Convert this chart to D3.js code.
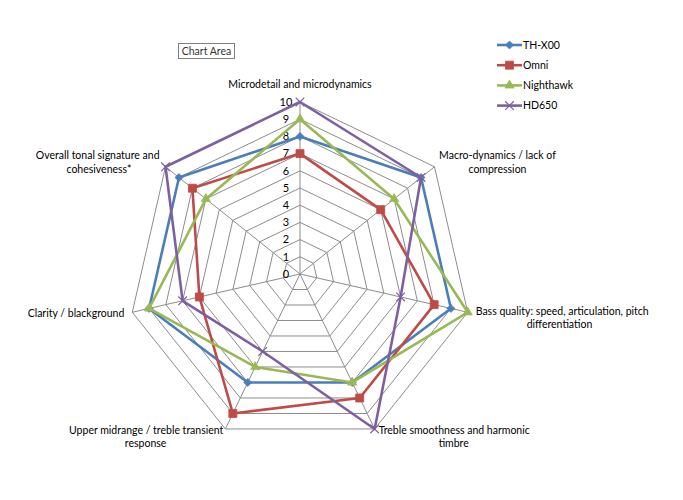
<!DOCTYPE html>
<html><head><meta charset="utf-8">
<script src="https://cdn.jsdelivr.net/npm/d3@7"></script>
<style>body{margin:0;background:#fff}svg{display:block}text{font-family:Lato,"Open Sans",sans-serif;fill:#000}</style>
</head><body><svg id="c" width="683" height="500"></svg>
<script>
const categories = [
  ["Microdetail and microdynamics"],
  ["Macro-dynamics / lack of","compression"],
  ["Bass quality: speed, articulation, pitch","differentiation"],
  ["Treble smoothness and harmonic","timbre"],
  ["Upper midrange / treble transient","response"],
  ["Clarity / blackground"],
  ["Overall tonal signature and","cohesiveness*"]
];
const seriesNames = ["TH-X00","Omni","Nighthawk","HD650"];
const thx00 = [8,9,9,7,7,9,9];
const omni = [7,6,8,8,9,6,8];
const nighthawk = [9,7,10,7,6,9,7];
const hd650 = [10,9,6,10,5,7,10];
const tickLabels = [0,1,2,3,4,5,6,7,8,9,10];

const seriesValues = [thx00, omni, nighthawk, hd650];
const colors = ["#4a7ebb","#be4b48","#98b954","#7d60a0"];
const markers = ["diamond","square","triangle","cross"];

const svg = d3.select("#c");
const cx = 300, cy = 274, R = 172;
const r = d3.scaleLinear().domain([0,10]).range([0,R]);
const n = categories.length;
const ang = d3.scaleLinear().domain([0,n]).range([0,2*Math.PI]);
const pt = (i,v)=>[cx + r(v)*Math.sin(ang(i)), cy - r(v)*Math.cos(ang(i))];

// grid polygons
const g = svg.append("g");
tickLabels.slice(1).forEach(t=>{
  g.append("polygon")
   .attr("points", d3.range(n).map(i=>pt(i,t).join(",")).join(" "))
   .attr("fill","none").attr("stroke","#8c8c8c").attr("stroke-width",1);
});
d3.range(n).forEach(i=>{
  const [x,y]=pt(i,10);
  g.append("line").attr("x1",cx).attr("y1",cy).attr("x2",x).attr("y2",y)
   .attr("stroke","#8c8c8c").attr("stroke-width",1);
});
// tick labels
tickLabels.forEach(t=>{
  svg.append("text").attr("x",cx-14).attr("y",cy-r(t)).attr("dy","0.35em")
   .attr("text-anchor","middle").attr("font-size",11).text(t);
});

// axis labels (per-line anchors)
const place = [
  {dx:0, dy:-18, anchors:["middle"], lx:[0]},
  {dx:63, dy:-11, anchors:["middle","middle"], lx:[0,0]},
  {dx:8, dy:-1, anchors:["start","start"], lx:[0,51]},
  {dx:4, dy:1, anchors:["start","start"], lx:[0,60]},
  {dx:-2, dy:1, anchors:["end","end"], lx:[0,-57]},
  {dx:-8, dy:1, anchors:["end"], lx:[0]},
  {dx:-6, dy:-11, anchors:["end","end"], lx:[0,-28]}
];
categories.forEach((lines,i)=>{
  const [x,y]=pt(i,10); const p=place[i];
  lines.forEach((s,k)=>{
    svg.append("text").attr("font-size",10.5).attr("text-anchor",p.anchors[k])
      .attr("x",x+p.dx+p.lx[k]).attr("y",y+p.dy+k*13.5).attr("dy","0.35em").text(s);
  });
});

const sym = {
  diamond: d3.symbol().type(d3.symbolDiamond2 || d3.symbolDiamond).size(40),
  square: d3.symbol().type(d3.symbolSquare).size(64),
  triangle: d3.symbol().type(d3.symbolTriangle2 || d3.symbolTriangle).size(60),
  cross: d3.symbol().type(d3.symbolTimes || d3.symbolX).size(50)
};
function drawMarker(sel, m, color, x, y){
  const path = sel.append("path").attr("d", sym[m]()).attr("transform",`translate(${x},${y})`);
  if(m==="cross") path.attr("fill","none").attr("stroke",color).attr("stroke-width",1.2);
  else path.attr("fill",color).attr("stroke",color).attr("stroke-width",0.8);
}

const line = d3.lineRadial().angle((d,i)=>ang(i)).radius(d=>r(d)).curve(d3.curveLinearClosed);
seriesValues.forEach((vals,s)=>{
  const gg = svg.append("g");
  gg.append("path").attr("d", line(vals)).attr("transform",`translate(${cx},${cy})`)
    .attr("fill","none").attr("stroke",colors[s]).attr("stroke-width",2.6).attr("stroke-linejoin","round");
  vals.forEach((v,i)=>{ const [x,y]=pt(i,v); drawMarker(gg, markers[s], colors[s], x, y); });
});

// legend
const lg = svg.append("g");
seriesNames.forEach((nm,s)=>{
  const y = 45 + s*20.2;
  lg.append("line").attr("x1",497).attr("x2",522).attr("y1",y).attr("y2",y)
    .attr("stroke",colors[s]).attr("stroke-width",2.6);
  drawMarker(lg, markers[s], colors[s], 509.5, y);
  lg.append("text").attr("x",523).attr("y",y).attr("dy","0.35em").attr("font-size",10.5).text(nm);
});

// Chart Area tag
svg.append("rect").attr("x",178.5).attr("y",43.5).attr("width",56).attr("height",15)
  .attr("fill","#fff").attr("stroke","#7f7f7f");
svg.append("text").attr("x",206.5).attr("y",51).attr("dy","0.35em").attr("text-anchor","middle")
  .attr("font-size",10.5).style("fill","#333").text("Chart Area");
</script></body></html>
